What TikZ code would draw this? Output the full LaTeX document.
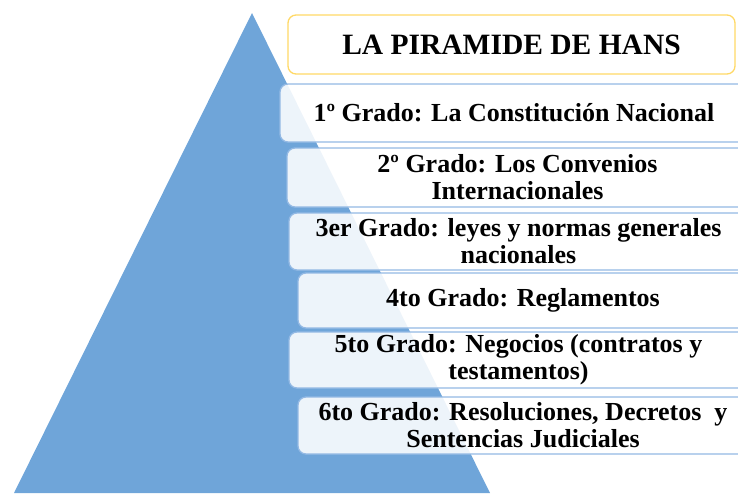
\documentclass[tikz,border=0pt]{standalone}
\usepackage{fontspec}
\setmainfont{Liberation Serif}
\definecolor{pyrblue}{HTML}{6FA5D9}
\definecolor{gradeline}{HTML}{93B9E4}
\definecolor{titleline}{HTML}{FFD966}
\begin{document}
\begin{tikzpicture}[x=1pt,y=-1pt,
    gradebox/.style={draw=gradeline, line width=1.3pt, fill=white, fill opacity=0.88, text opacity=1,
        rounded corners=8pt, inner sep=0pt, align=center, font=\fontsize{26}{27}\selectfont\bfseries},
    titlebox/.style={gradebox, draw=titleline, fill opacity=1, font=\fontsize{29.5}{30}\selectfont\bfseries}]
    \useasboundingbox (0,0) rectangle (738,493);
    \clip (0,0) rectangle (738,493);
    % Draw the pyramid
    \fill[pyrblue] (14,493) -- (252,13) -- (490,493) -- cycle;
    % Title box
    \node[titlebox, minimum width=447pt, minimum height=59pt] (title) at (511.5,44.5) {LA PIRAMIDE DE HANS};
    % Add the grade boxes
    \foreach \name/\l/\t/\b/\txt in {
        grado1/280/84/142/{1º Grado: La Constitución Nacional},
        grado2/287/148/207/{2º Grado: Los Convenios\\Internacionales},
        grado3/289/213/270/{3er Grado: leyes y normas generales\\nacionales},
        grado4/298/273/328/{4to Grado: Reglamentos},
        grado5/289/332/388/{5to Grado: Negocios (contratos y\\testamentos)},
        grado6/298/397/454/{6to Grado: Resoluciones, Decretos\ \ y\\Sentencias Judiciales}} {
        \pgfmathsetmacro{\w}{748-\l}
        \pgfmathsetmacro{\h}{\b-\t}
        \node[gradebox, minimum width=\w pt, minimum height=\h pt] (\name) at ({(\l+748)/2},{(\t+\b)/2}) {\txt};
    }
\end{tikzpicture}
\end{document}
